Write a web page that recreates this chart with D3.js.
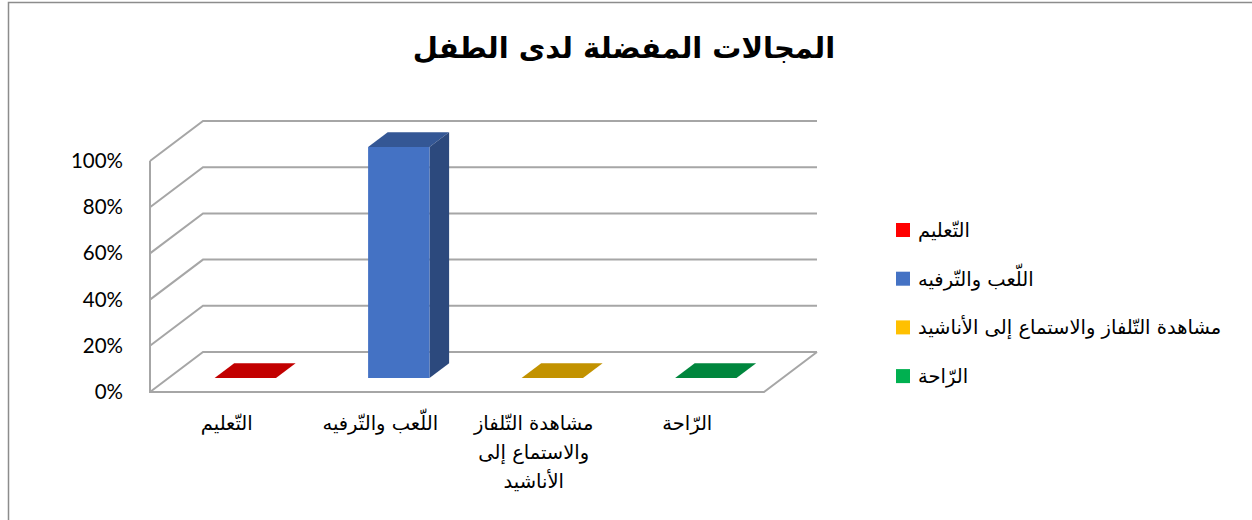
<!DOCTYPE html>
<html>
<head>
<meta charset="utf-8">
<script src="https://cdn.jsdelivr.net/npm/d3@7"></script>
<style>
  body { margin: 0; background: #fff; }
  svg { display: block; }
</style>
</head>
<body>
<div id="chart"></div>
<script>
// data
const categories = ["التّعليم", "اللّعب والتّرفيه", "مشاهدة التّلفاز والاستماع إلى الأناشيد", "الرّاحة"];
const axisLabelLines = [["التّعليم"], ["اللّعب والتّرفيه"], ["مشاهدة التّلفاز", "والاستماع إلى", "الأناشيد"], ["الرّاحة"]];
const values = [0, 1, 0, 0];
const tickValues = [0, 0.2, 0.4, 0.6, 0.8, 1];
const titleText = "المجالات المفضلة لدى الطفل";

const colors = ["#FF0000", "#4472C4", "#FFC000", "#00B050"];

const width = 1252, height = 520;
const arabicFont = "'DejaVu Sans', sans-serif";

// 3d box: front lower-left corner, depth offset
const x0 = 150, y0 = 392;
const plotW = 614, plotH = 231;
const DX = 53, DY = 40;
const barDepth = [0.35, 0.72];

const svg = d3.select("#chart").append("svg")
  .attr("width", width)
  .attr("height", height);

// chart border (only top and left show)
svg.append("rect")
  .attr("x", 8.5).attr("y", 2.5)
  .attr("width", width + 20).attr("height", height + 20)
  .attr("fill", "none")
  .attr("stroke", "#8c8c8c")
  .attr("stroke-width", 1.5);

// title
svg.append("text")
  .attr("x", 624)
  .attr("y", 58)
  .attr("text-anchor", "middle")
  .style("font-family", arabicFont)
  .style("font-weight", "bold")
  .style("font-size", "29px")
  .text(titleText);

const x = d3.scaleBand()
  .domain(categories)
  .range([0, plotW])
  .paddingInner(0.6)
  .paddingOuter(0.3);

const y = d3.scaleLinear()
  .domain([0, 1])
  .range([0, plotH]);

// project (u along categories, v height, d depth 0..1)
function proj(u, v, d) {
  return [x0 + u + d * DX, y0 - v - d * DY];
}
function poly(pts) {
  return "M" + pts.map(p => p.join(",")).join("L") + "Z";
}

const gridColor = "#a6a6a6";
const grid = svg.append("g")
  .attr("fill", "none")
  .attr("stroke", gridColor)
  .attr("stroke-width", 2);

// gridlines: side wall slant + back wall horizontal
tickValues.forEach(function (t) {
  const a = proj(0, y(t), 0), b = proj(0, y(t), 1), c = proj(plotW, y(t), 1);
  grid.append("path").attr("d", "M" + a + "L" + b + "L" + c);
});

// floor edges and front vertical axis
grid.append("path").attr("d", "M" + proj(0, y(1), 0) + "L" + proj(0, 0, 0) + "L" + proj(plotW, 0, 0) + "L" + proj(plotW, 0, 1));

// y tick labels
svg.append("g")
  .attr("transform", "translate(" + (x0 - 24) + "," + y0 + ")")
  .call(d3.axisLeft(d3.scaleLinear().domain([0, 1]).range([0, -plotH]))
    .tickValues(tickValues)
    .tickFormat(d3.format(".0%"))
    .tickSize(0))
  .call(g => g.select(".domain").remove())
  .selectAll("text")
    .attr("fill", "#000")
    .style("font-family", "Lato, 'Open Sans', sans-serif")
    .style("font-size", "20.5px");

function shade(c, k) {
  const col = d3.rgb(c);
  return d3.rgb(col.r * k, col.g * k, col.b * k).formatHex();
}

// bars
const bars = svg.append("g").selectAll("g")
  .data(categories)
  .join("g");

bars.each(function (cat, i) {
  const g = d3.select(this);
  const u0 = x(cat), u1 = x(cat) + x.bandwidth();
  const h = y(values[i]);
  const d0 = barDepth[0], d1 = barDepth[1];
  // top face
  g.append("path")
    .attr("d", poly([proj(u0, h, d0), proj(u1, h, d0), proj(u1, h, d1), proj(u0, h, d1)]))
    .attr("fill", shade(colors[i], 0.76));
  if (h > 0) {
    // side face
    g.append("path")
      .attr("d", poly([proj(u1, 0, d0), proj(u1, 0, d1), proj(u1, h, d1), proj(u1, h, d0)]))
      .attr("fill", shade(colors[i], 0.64));
    // front face
    g.append("path")
      .attr("d", poly([proj(u0, 0, d0), proj(u1, 0, d0), proj(u1, h, d0), proj(u0, h, d0)]))
      .attr("fill", colors[i]);
  }
});

// category labels
const labels = svg.append("g")
  .selectAll("text")
  .data(categories)
  .join("text")
  .attr("x", d => x0 + x(d) + x.bandwidth() / 2)
  .attr("y", 430)
  .attr("text-anchor", "middle")
  .style("font-family", arabicFont)
  .style("font-size", "19.5px")
  .attr("fill", "#000");

labels.each(function (d, i) {
  const t = d3.select(this);
  axisLabelLines[i].forEach(function (line, j) {
    t.append("tspan")
      .attr("x", x0 + x(d) + x.bandwidth() / 2)
      .attr("dy", j === 0 ? 0 : 29)
      .text(line);
  });
});

// legend
const legend = svg.append("g")
  .selectAll("g")
  .data(categories)
  .join("g")
  .attr("transform", (d, i) => "translate(896," + (230 + i * 48.7) + ")");

legend.append("rect")
  .attr("x", 0)
  .attr("y", -7)
  .attr("width", 14)
  .attr("height", 14)
  .attr("fill", (d, i) => colors[i]);

legend.append("text")
  .attr("x", 22)
  .attr("y", 7)
  .style("font-family", arabicFont)
  .style("font-size", "19.5px")
  .attr("fill", "#000")
  .text(d => d);
</script>
</body>
</html>
